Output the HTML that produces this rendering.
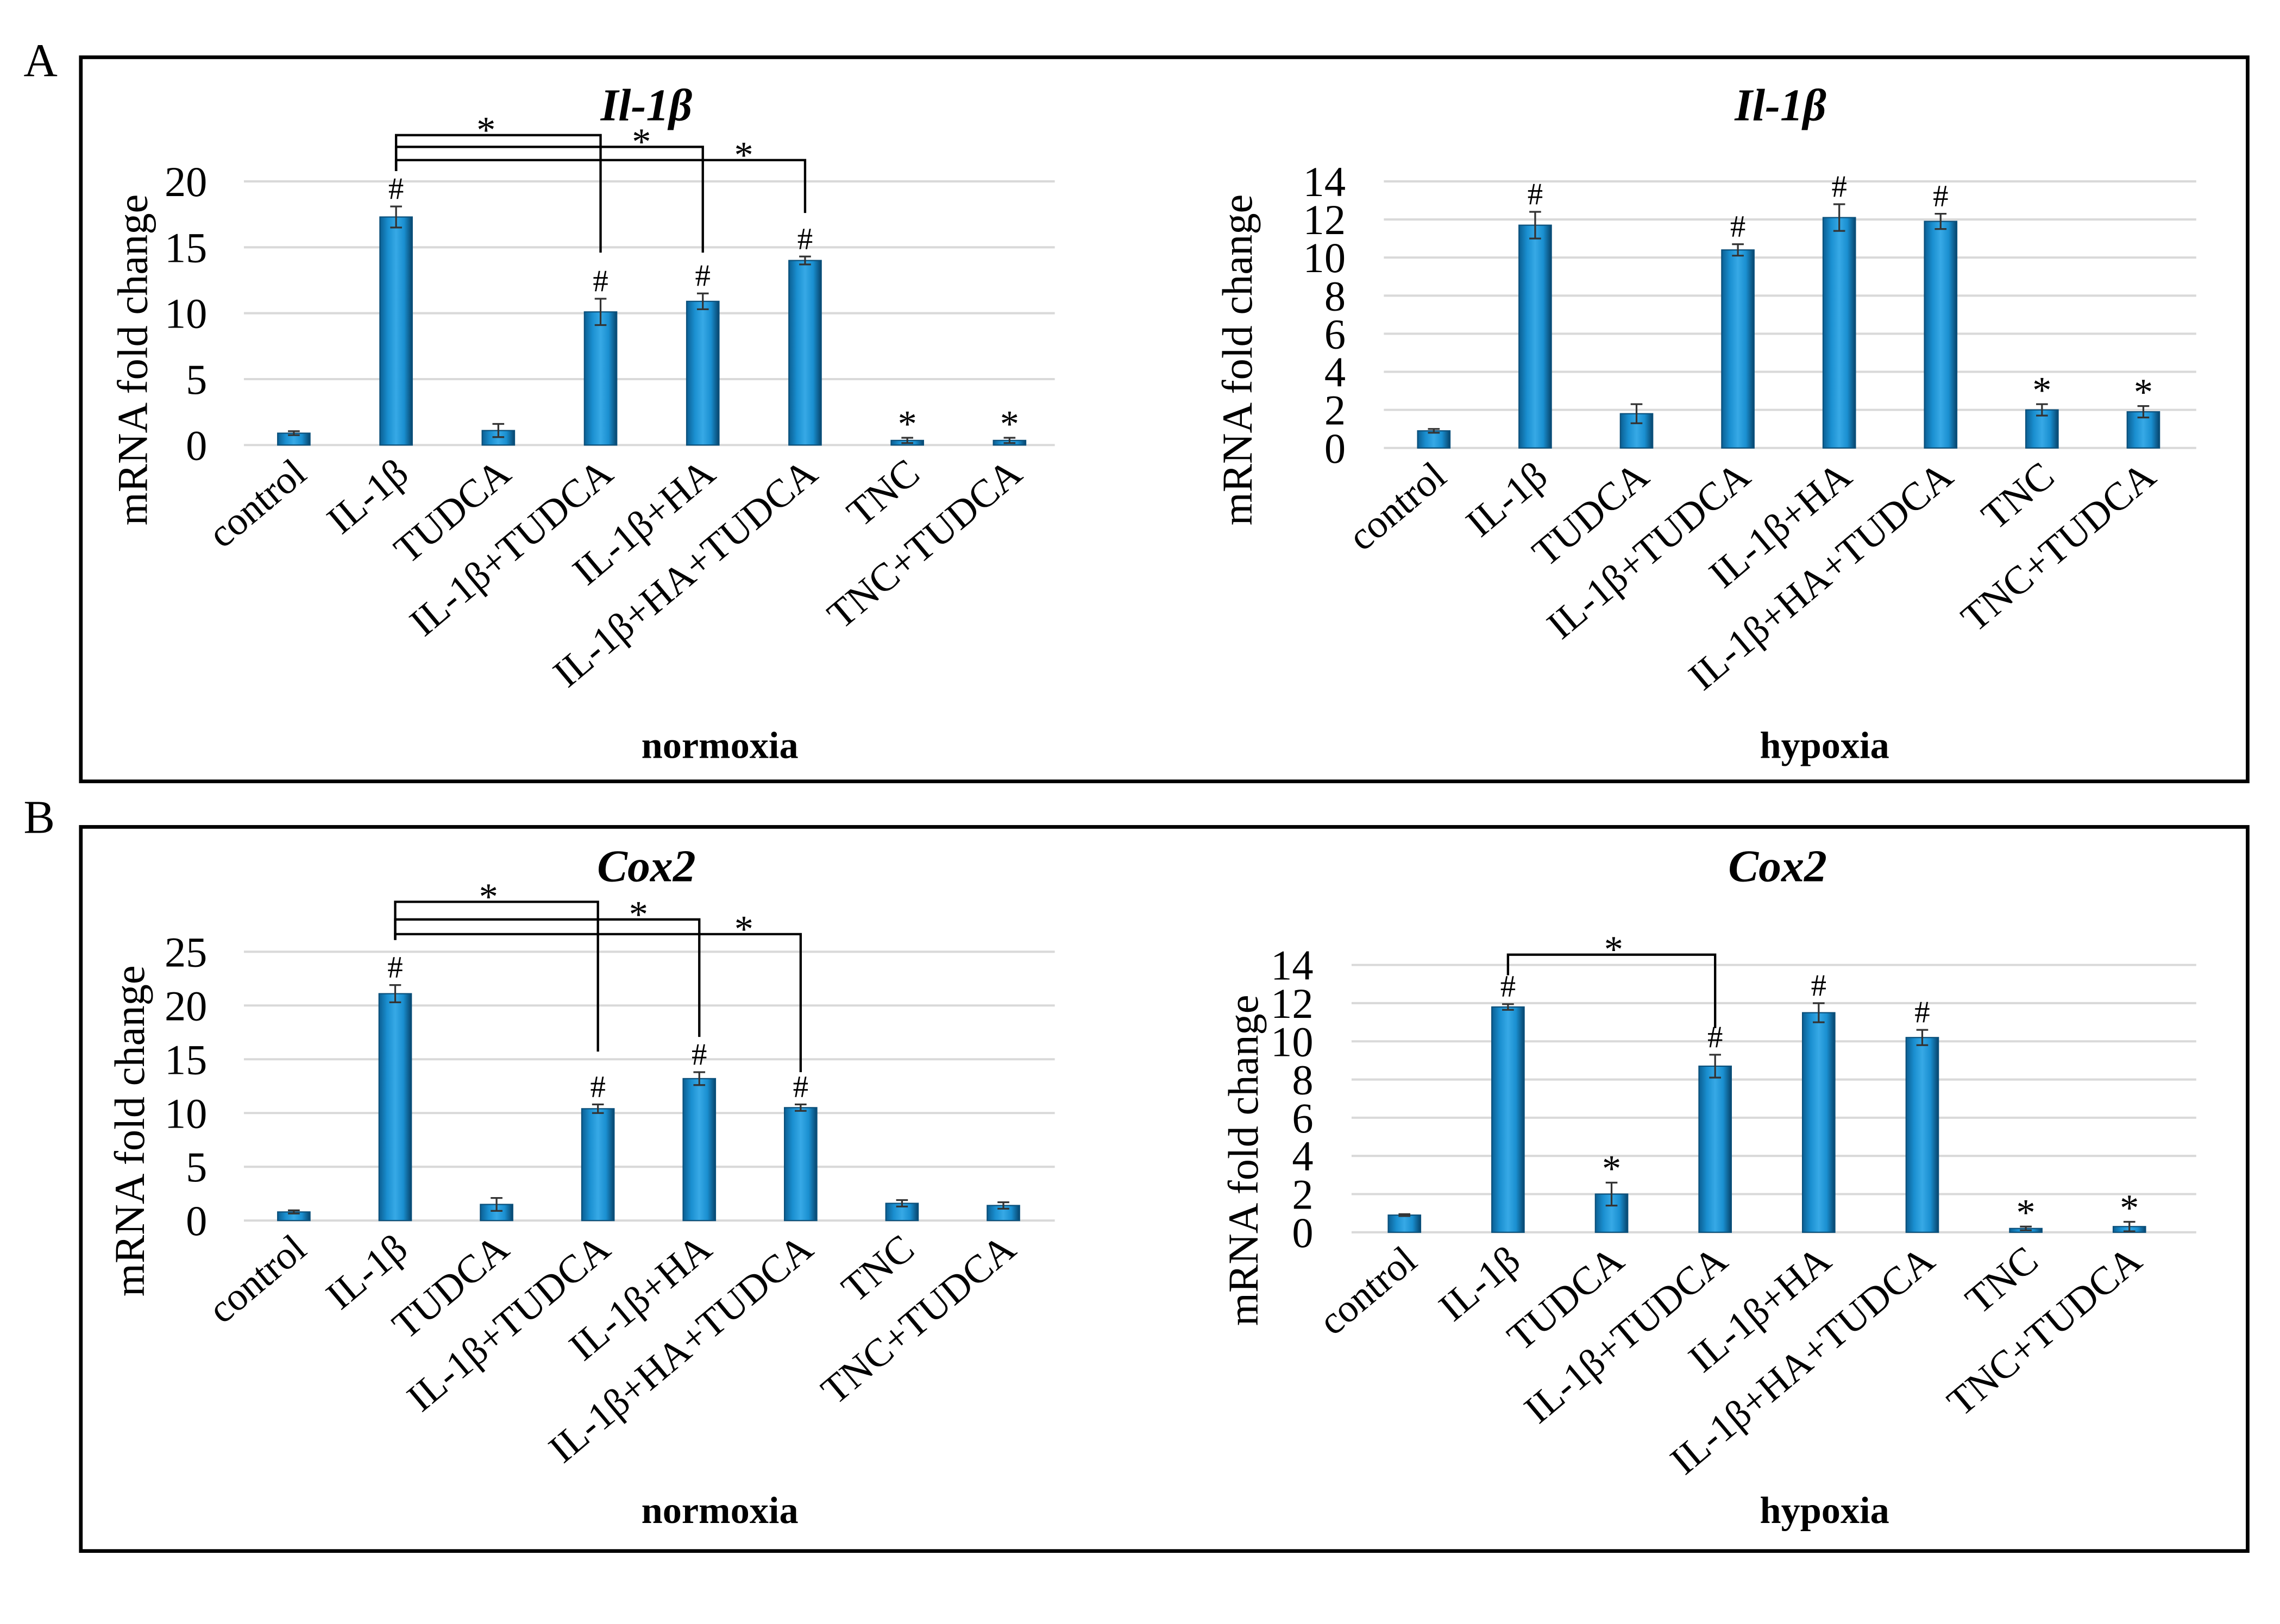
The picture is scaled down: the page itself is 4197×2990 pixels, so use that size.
<!DOCTYPE html>
<html><head><meta charset="utf-8">
<style>
html,body{margin:0;padding:0;background:#fff;}
svg{display:block;}
text{font-family:"Liberation Serif",serif;fill:#000;}
</style></head>
<body>
<svg id="fig" xmlns="http://www.w3.org/2000/svg" width="4197" height="2990" viewBox="0 0 1552 1105.7">
<defs>
<linearGradient id="barGrad" x1="0" y1="0" x2="1" y2="0">
<stop offset="0" stop-color="#0b5f93"/>
<stop offset="0.25" stop-color="#1a8fd0"/>
<stop offset="0.5" stop-color="#37a9e6"/>
<stop offset="0.75" stop-color="#1a8fd0"/>
<stop offset="1" stop-color="#07456d"/>
</linearGradient>
</defs>
<text x="16" y="52" font-size="32">A</text>
<rect x="55" y="39" width="1475" height="493" fill="none" stroke="#000" stroke-width="2.5"/>
<text x="16" y="567" font-size="32">B</text>
<rect x="55" y="563" width="1475" height="493" fill="none" stroke="#000" stroke-width="2.5"/>
<g id="charts"></g>
</svg>
<script>
const categories = ["control","IL-1β","TUDCA","IL-1β+TUDCA","IL-1β+HA","IL-1β+HA+TUDCA","TNC","TNC+TUDCA"];

const il1bNormValues = [0.9, 17.3, 1.1, 10.1, 10.9, 14.0, 0.35, 0.35];
const il1bNormErrors = [0.15, 0.8, 0.5, 1.0, 0.6, 0.3, 0.2, 0.2];
const il1bNormMarks = ["", "#", "", "#", "#", "#", "*", "*"];
const il1bNormTicks = [0, 5, 10, 15, 20];

const il1bHypValues = [0.9, 11.7, 1.8, 10.4, 12.1, 11.9, 2.0, 1.9];
const il1bHypErrors = [0.1, 0.7, 0.5, 0.3, 0.7, 0.4, 0.3, 0.3];
const il1bHypMarks = ["", "#", "", "#", "#", "#", "*", "*"];
const il1bHypTicks = [0, 2, 4, 6, 8, 10, 12, 14];

const cox2NormValues = [0.8, 21.1, 1.5, 10.4, 13.2, 10.5, 1.6, 1.4];
const cox2NormErrors = [0.15, 0.8, 0.6, 0.4, 0.6, 0.3, 0.3, 0.3];
const cox2NormMarks = ["", "#", "", "#", "#", "#", "", ""];
const cox2NormTicks = [0, 5, 10, 15, 20, 25];

const cox2HypValues = [0.9, 11.8, 2.0, 8.7, 11.5, 10.2, 0.2, 0.3];
const cox2HypErrors = [0.05, 0.15, 0.6, 0.6, 0.5, 0.4, 0.1, 0.25];
const cox2HypMarks = ["", "#", "*", "#", "#", "#", "*", "*"];
const cox2HypTicks = [0, 2, 4, 6, 8, 10, 12, 14];

const NS = "http://www.w3.org/2000/svg";
const root = document.getElementById("charts");
function mk(tag, attrs, parent, txt){
  const e = document.createElementNS(NS, tag);
  for (const k in attrs) e.setAttribute(k, attrs[k]);
  if (txt !== undefined) e.textContent = txt;
  parent.appendChild(e);
  return e;
}

// brackets: [fromIdx, toIdx, endY, lineY, startY, starFraction]
function chart(cfg, values, errors, marks, ticks, name){
  const g = mk("g", {}, root);
  
  
  const max = ticks[ticks.length-1];
  const y = v => cfg.y0 - (v/max)*(cfg.y0 - cfg.yTop);
  const x = i => cfg.x0 + i*cfg.step;
  ticks.forEach(t => {
    const gl = mk("line", {x1:cfg.gx0, x2:cfg.gx1, y1:y(t), y2:y(t), stroke:"#d9d9d9", "stroke-width":1.5}, g);
    
    
    const tl = mk("text", {x:cfg.tickX, y:y(t)+10, "font-size":29, "text-anchor":"end"}, g, String(t));
    
    
  });
  const yl = mk("text", {x:0, y:0, "font-size":29, "text-anchor":"middle", transform:`translate(${cfg.ylX},${cfg.ylY}) rotate(-90)`}, g, "mRNA fold change");
  
  
  const tt = mk("text", {x:cfg.titleX, y:cfg.titleY, "font-size":31, "font-weight":"bold", "font-style":"italic", "text-anchor":"middle"}, g, cfg.title);
  
  
  const xl = mk("text", {x:cfg.xlX, y:cfg.xlY, "font-size":26, "font-weight":"bold", "text-anchor":"middle"}, g, cfg.xlabel);
  
  
  const bw = 22;
  values.forEach((v,i) => {
    const cx = x(i);
    const b = mk("rect", {x:cx-bw/2, y:y(v), width:bw, height:cfg.y0-y(v), fill:"url(#barGrad)", stroke:"#0a4f7a", "stroke-width":0.8}, g);
    
    
    const e = errors[i];
    const eb = mk("path", {d:`M${cx},${y(v+e)}V${y(v-e)}M${cx-4},${y(v+e)}H${cx+4}M${cx-4},${y(v-e)}H${cx+4}`, stroke:"#333", "stroke-width":1.2, fill:"none"}, g);
    
    
    if (marks[i]) {
      const isStar = marks[i] === "*";
      const m = mk("text", {x:cx, y:y(v+e)-(isStar?1:5), "font-size":isStar?26:21, "text-anchor":"middle"}, g, marks[i]);
      
      
    }
    const cl = mk("text", {x:0, y:0, "font-size":27, "text-anchor":"end", transform:`translate(${cx+10},${cfg.y0+22}) rotate(-40)`}, g, categories[i]);
    
    
  });
  (cfg.brackets||[]).forEach(br => {
    const [a, b2, endY, lineY, startY, frac] = br;
    const p = mk("path", {d:`M${x(a)},${startY}V${lineY}H${x(b2)}V${endY}`, stroke:"#000", "stroke-width":1.6, fill:"none"}, g);
    
    
    const s = mk("text", {x:x(a) + frac*(x(b2)-x(a)), y:lineY+5, "font-size":26, "text-anchor":"middle"}, g, "*");
    
    
  });
}

chart({x0:200, step:69.6, y0:303, yTop:123.5, gx0:166, gx1:718, tickX:141, ylX:100, ylY:245,
  title:"Il-1β", titleX:440, titleY:82, xlabel:"normoxia", xlX:490, xlY:516,
  brackets:[[1,3,172,92,116.5,0.44],[1,4,172,100,116.5,0.8],[1,5,145,109,116.5,0.85]]},
  il1bNormValues, il1bNormErrors, il1bNormMarks, il1bNormTicks, "il1b-normoxia-chart");

chart({x0:976, step:69, y0:305, yTop:123.5, gx0:942, gx1:1495, tickX:916, ylX:852, ylY:245,
  title:"Il-1β", titleX:1212, titleY:82, xlabel:"hypoxia", xlX:1242, xlY:516},
  il1bHypValues, il1bHypErrors, il1bHypMarks, il1bHypTicks, "il1b-hypoxia-chart");

chart({x0:200, step:69, y0:831, yTop:648, gx0:166, gx1:718, tickX:141, ylX:98, ylY:770,
  title:"Cox2", titleX:440, titleY:600, xlabel:"normoxia", xlX:490, xlY:1037,
  brackets:[[1,3,716,614,640,0.46],[1,4,706,626,640,0.8],[1,5,730,636,640,0.86]]},
  cox2NormValues, cox2NormErrors, cox2NormMarks, cox2NormTicks, "cox2-normoxia-chart");

chart({x0:956, step:70.5, y0:839, yTop:657, gx0:920, gx1:1495, tickX:894, ylX:856, ylY:790,
  title:"Cox2", titleX:1210, titleY:600, xlabel:"hypoxia", xlX:1242, xlY:1037,
  brackets:[[1,3,700,650,664,0.51]]},
  cox2HypValues, cox2HypErrors, cox2HypMarks, cox2HypTicks, "cox2-hypoxia-chart");
</script>
</body></html>
